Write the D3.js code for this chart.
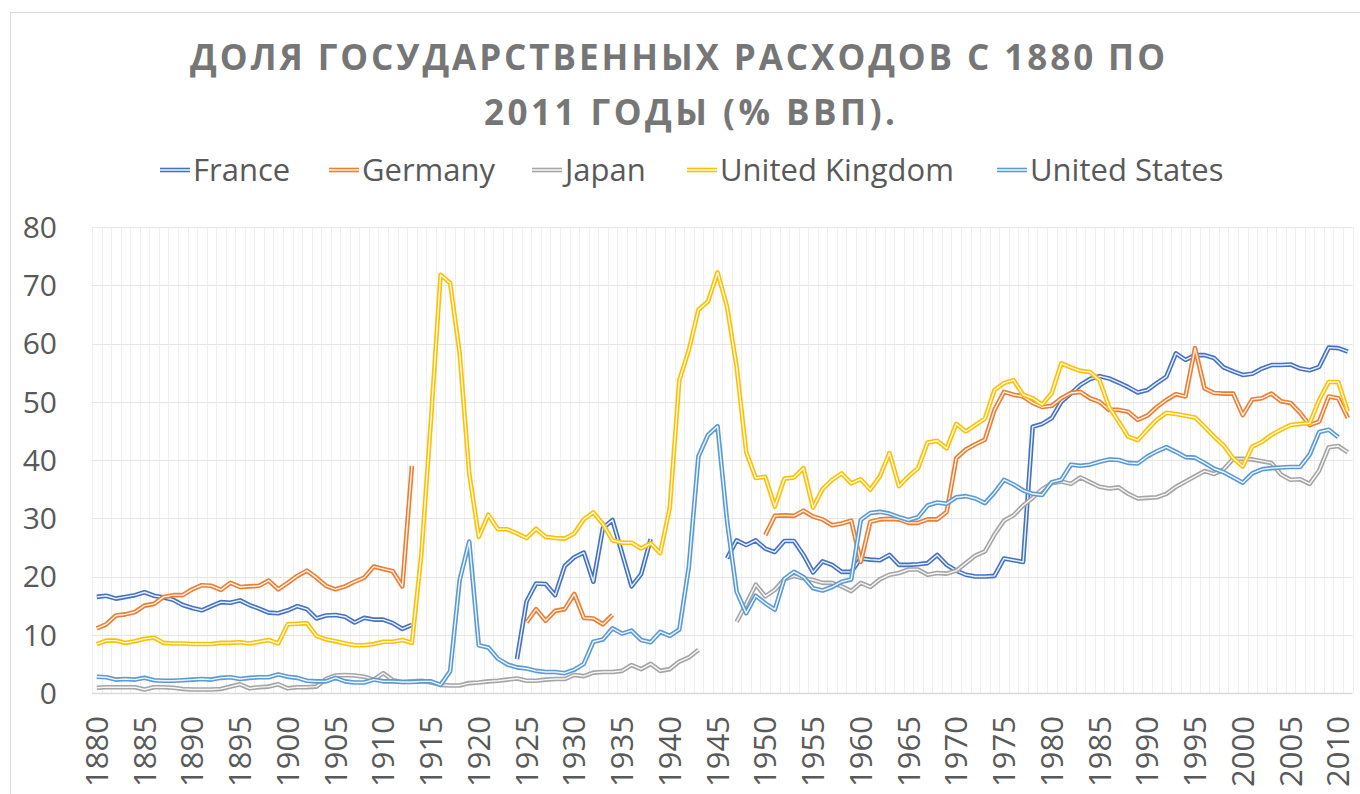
<!DOCTYPE html>
<html>
<head>
<meta charset="utf-8">
<script src="https://cdn.jsdelivr.net/npm/d3@7/dist/d3.min.js"></script>
<style>
body { margin: 0; background: #fff; }
text { font-family: "Open Sans", "DejaVu Sans", sans-serif; }
</style>
</head>
<body>
<div id="chart"></div>
<script>
// categories and labels
var years = d3.range(1880, 2012);
var yTicks = [0, 10, 20, 30, 40, 50, 60, 70, 80];
var xTickYears = years.filter(function(yr){ return yr % 5 == 0; });
var titleLines = ["ДОЛЯ ГОСУДАРСТВЕННЫХ РАСХОДОВ С 1880 ПО", "2011 ГОДЫ (% ВВП)."];
var countries = ["France", "Germany", "Japan", "United Kingdom", "United States"];
var colors = ["#4472C4", "#ED7D31", "#A5A5A5", "#FFC000", "#5B9BD5"];

// series, one value per year 1880..2011 (null = no data)
var france = [16.5, 16.7, 16.2, 16.5, 16.8, 17.3, 16.7, 16.4, 16.0, 15.1,
    14.6, 14.2, 14.9, 15.6, 15.5, 15.9, 15.1, 14.5, 13.8, 13.7,
    14.2, 14.9, 14.4, 12.8, 13.3, 13.4, 13.1, 12.1, 12.9, 12.6,
    12.6, 12.0, 11.0, 11.7,
    null, null, null, null, null, null, null, null, null, null,
    5.8, 15.7, 18.8, 18.7, 16.8, 21.8, 23.3, 24.1, 19.1, 28.3,
    29.7, 24.0, 18.3, 20.4, 26.4,
    null, null, null, null, null, null, null,
    23.1, 26.2, 25.4, 26.2, 24.8, 24.2, 26.1, 26.1, 23.7, 20.7,
    22.6, 22.0, 20.8, 20.8, 23.1, 22.9, 22.8, 23.7, 22.0, 22.0,
    22.1, 22.3, 23.7, 22.0, 21.0, 20.3, 20.0, 20.0, 20.1, 23.1,
    22.8, 22.5,
    45.7, 46.2, 47.2, 50.0, 51.4, 52.9, 53.9, 54.4, 54.0, 53.3,
    52.5, 51.6, 52.0, 53.2, 54.3, 58.3, 57.2, 58.0, 58.0, 57.5,
    55.9, 55.2, 54.6, 54.8, 55.7, 56.3, 56.3, 56.4, 55.7, 55.4,
    56.0, 59.3, 59.2, 58.6];

var germany = [11.1, 11.8, 13.3, 13.5, 13.9, 15.0, 15.3, 16.5, 16.8, 16.8,
    17.8, 18.5, 18.4, 17.7, 18.9, 18.2, 18.3, 18.4, 19.3, 17.8,
    18.9, 20.1, 21.0, 19.8, 18.4, 17.8, 18.3, 19.1, 19.8, 21.7,
    21.3, 20.9, 18.3, 39.0,
    null, null, null, null, null, null, null, null, null, null, null,
    12.1, 14.4, 12.4, 14.1, 14.4, 17.0, 12.9, 12.8, 11.8, 13.4,
    null, null, null, null, null, null, null, null, null, null,
    null, null, null, null, null,
    27.1, 30.4, 30.5, 30.4, 31.3, 30.3, 29.8, 28.8, 29.1, 29.6,
    22.5, 29.4, 29.8, 29.9, 29.8, 29.2, 29.2, 29.8, 29.8, 31.1,
    40.3, 41.8, 42.7, 43.5, 48.6, 51.7, 51.2, 50.9, 49.8, 49.1,
    49.3, 50.6, 51.5, 51.7, 50.6, 50.0, 48.6, 48.6, 48.3, 46.9,
    47.6, 49.1, 50.3, 51.3, 50.9, 59.2, 52.3, 51.5, 51.4, 51.4,
    47.7, 50.4, 50.6, 51.4, 50.1, 49.8, 48.1, 46.0, 46.6, 50.9,
    50.6, 47.2];

var japan = [0.9, 1.0, 1.0, 1.0, 1.0, 0.6, 1.0, 1.0, 0.9, 0.7,
    0.6, 0.6, 0.6, 0.7, 1.1, 1.5, 0.8, 1.0, 1.1, 1.5,
    0.8, 1.0, 1.0, 1.1, 2.4, 3.0, 3.1, 3.0, 2.8, 2.3,
    3.4, 2.2, 1.9, 2.0,
    2.1, 1.8, 1.4, 1.3, 1.3, 1.7, 1.8, 2.0, 2.1, 2.3,
    2.5, 2.1, 2.1, 2.3, 2.4, 2.4, 3.1, 2.9, 3.5, 3.6,
    3.6, 3.8, 4.8, 4.1, 5.0, 3.8, 4.1, 5.4, 6.1, 7.4,
    null, null, null,
    12.2, 15.3, 18.6, 16.6, 17.7, 19.5, 20.1, 19.7, 19.4, 18.9,
    18.9, 18.3, 17.5, 18.9, 18.2, 19.5, 20.3, 20.6, 21.2, 21.2,
    20.3, 20.6, 20.5, 21.0, 22.3, 23.6, 24.3, 27.2, 29.6, 30.5,
    32.2, 33.5, 35.0, 36.0, 36.3, 35.9, 37.0, 36.2, 35.4, 35.1,
    35.3, 34.2, 33.4, 33.5, 33.6, 34.2, 35.4, 36.3, 37.2, 38.1,
    37.6, 38.4, 40.2, 40.2, 40.1, 39.8, 39.5, 37.5, 36.6, 36.7,
    35.9, 38.2, 42.2, 42.4, 41.3];

var unitedKingdom = [8.4, 9.0, 9.0, 8.6, 8.9, 9.3, 9.5, 8.6, 8.5, 8.5,
    8.4, 8.4, 8.4, 8.6, 8.6, 8.7, 8.5, 8.8, 9.1, 8.5,
    11.8, 11.9, 12.0, 9.8, 9.2, 8.9, 8.5, 8.2, 8.2, 8.4,
    8.8, 8.8, 9.1, 8.6,
    24.0, 47.0, 71.8, 70.4, 58.3, 37.7, 26.8, 30.6, 28.1, 28.1,
    27.4, 26.6, 28.2, 26.8, 26.6, 26.5, 27.4, 29.8, 31.0, 29.0,
    26.2, 25.8, 25.8, 24.8, 25.7, 24.0, 31.8, 53.7, 58.9, 65.8,
    67.2, 72.2, 66.3, 56.0, 41.4, 36.9, 37.1, 32.0, 36.8, 37.0,
    38.6, 31.8, 35.0, 36.6, 37.7, 36.0, 36.7, 34.9, 37.2, 41.2,
    35.5, 37.2, 38.6, 43.0, 43.3, 42.0, 46.2, 44.9, 46.0, 47.1,
    52.0, 53.2, 53.7, 51.2, 50.6, 49.5, 51.5, 56.6, 55.9, 55.3,
    55.1, 53.7, 49.1, 46.6, 44.0, 43.4, 45.2, 46.9, 48.1, 47.9,
    47.6, 47.3, 45.7, 44.0, 42.5, 40.3, 38.9, 42.3, 43.1, 44.3,
    45.2, 46.0, 46.2, 46.3, 50.3, 53.4, 53.4, 48.3];

var unitedStates = [2.8, 2.7, 2.3, 2.4, 2.3, 2.6, 2.2, 2.1, 2.1, 2.2,
    2.3, 2.4, 2.3, 2.6, 2.7, 2.4, 2.6, 2.7, 2.7, 3.2,
    2.8, 2.6, 2.1, 2.0, 2.0, 2.6, 2.0, 1.8, 1.8, 2.3,
    2.0, 2.0, 1.9, 1.9,
    2.0, 2.0, 1.4, 3.7, 19.4, 26.0, 8.2, 7.8, 5.9, 4.9,
    4.4, 4.2, 3.8, 3.6, 3.6, 3.4, 4.0, 5.0, 8.8, 9.2,
    11.1, 10.2, 10.7, 9.1, 8.7, 10.5, 9.8, 10.9, 21.7, 40.6,
    44.3, 45.8, 29.5, 17.4, 13.7, 16.7, 15.4, 14.3, 19.6, 20.8,
    19.9, 18.0, 17.6, 18.2, 19.1, 19.5, 29.7, 30.9, 31.1, 30.8,
    30.2, 29.7, 30.2, 32.2, 32.7, 32.5, 33.6, 33.8, 33.4, 32.6,
    34.4, 36.6, 35.8, 34.8, 34.2, 34.0, 36.2, 36.6, 39.2, 39.0,
    39.2, 39.7, 40.1, 40.0, 39.5, 39.4, 40.6, 41.5, 42.2, 41.4,
    40.5, 40.4, 39.5, 38.5, 37.9, 37.0, 36.1, 37.7, 38.4, 38.6,
    38.7, 38.8, 38.8, 40.9, 44.8, 45.2, 43.9];

var seriesValues = [france, germany, japan, unitedKingdom, unitedStates];

window.onload = drawChart;

function drawChart(){
    var width = 1360,
        height = 794;

    var svg = d3.select("#chart")
        .append("svg")
        .attr("width", width)
        .attr("height", height);

    // chart area border (only top and left edges show)
    svg.append("rect")
        .attr("x", 10.5)
        .attr("y", 12.5)
        .attr("width", 1400)
        .attr("height", 900)
        .attr("fill", "#fff")
        .attr("stroke", "#d9d9d9");

    // plot area scales
    var x = d3.scaleBand()
        .domain(years)
        .range([92, 1352.6]);

    var y = d3.scaleLinear()
        .domain([0, 80])
        .range([693, 227]);

    setTitle(svg);
    setLegend(svg);
    setGrid(svg, x, y);
    setAxes(svg, x, y);
    setLines(svg, x, y);
};

function setTitle(svg){
    var spans = [975, 411];
    svg.selectAll(".title")
        .data(titleLines)
        .enter()
        .append("text")
        .attr("class", "title")
        .attr("x", function(d, i){ return i == 0 ? 677.5 : 689.5; })
        .attr("y", function(d, i){ return 70 + i * 55; })
        .attr("text-anchor", "middle")
        .attr("textLength", function(d, i){ return spans[i]; })
        .attr("lengthAdjust", "spacing")
        .style("font-size", "35px")
        .style("font-weight", "bold")
        .style("fill", "#767676")
        .text(function(d){ return d; });
};

function setLegend(svg){
    var legendX = [193, 362, 565, 720, 1030];

    var item = svg.selectAll(".legendItem")
        .data(countries)
        .enter()
        .append("g")
        .attr("class", "legendItem")
        .attr("transform", function(d, i){ return "translate(" + legendX[i] + ",170)"; });

    item.append("line")
        .attr("x1", -33)
        .attr("x2", -3)
        .attr("stroke", function(d, i){ return colors[i]; })
        .attr("stroke-width", 4.6);

    item.append("line")
        .attr("x1", -33)
        .attr("x2", -3)
        .attr("stroke", "#fff")
        .attr("stroke-width", 1.4);

    item.append("text")
        .attr("x", 0)
        .attr("y", 11)
        .style("font-size", "31px")
        .style("fill", "#595959")
        .text(function(d){ return d; });
};

function setGrid(svg, x, y){
    // vertical gridlines on every category boundary
    var bounds = years.map(function(yr){ return x(yr); }).concat([x.range()[1]]);
    svg.selectAll(".vgrid")
        .data(bounds)
        .enter()
        .append("line")
        .attr("class", "vgrid")
        .attr("x1", function(d){ return Math.round(d) + 0.5; })
        .attr("x2", function(d){ return Math.round(d) + 0.5; })
        .attr("y1", y(80))
        .attr("y2", y(0))
        .attr("stroke", "#efefef")
        .attr("stroke-width", 1);

    // horizontal gridlines
    svg.selectAll(".hgrid")
        .data(yTicks.slice(1))
        .enter()
        .append("line")
        .attr("class", "hgrid")
        .attr("x1", x.range()[0])
        .attr("x2", x.range()[1])
        .attr("y1", function(d){ return Math.round(y(d)) + 0.5; })
        .attr("y2", function(d){ return Math.round(y(d)) + 0.5; })
        .attr("stroke", "#e6e6e6")
        .attr("stroke-width", 1);
};

function setAxes(svg, x, y){
    // bottom axis line
    svg.append("line")
        .attr("x1", x.range()[0])
        .attr("x2", x.range()[1])
        .attr("y1", Math.round(y(0)) + 0.5)
        .attr("y2", Math.round(y(0)) + 0.5)
        .attr("stroke", "#d9d9d9")
        .attr("stroke-width", 1.5);

    svg.selectAll(".ylabel")
        .data(yTicks)
        .enter()
        .append("text")
        .attr("class", "ylabel")
        .attr("x", 57)
        .attr("y", function(d){ return y(d); })
        .attr("dy", "0.36em")
        .attr("text-anchor", "end")
        .style("font-size", "30px")
        .style("fill", "#595959")
        .text(function(d){ return d; });

    svg.selectAll(".xlabel")
        .data(xTickYears)
        .enter()
        .append("text")
        .attr("class", "xlabel")
        .attr("transform", function(d){
            return "translate(" + (x(d) + x.bandwidth() / 2) + ",716) rotate(-90)";
        })
        .attr("dy", "0.36em")
        .attr("text-anchor", "end")
        .style("font-size", "31px")
        .style("fill", "#595959")
        .text(function(d){ return d; });
};

function setLines(svg, x, y){
    var line = d3.line()
        .defined(function(d){ return d != null; })
        .x(function(d, i){ return x(years[i]) + x.bandwidth() / 2; })
        .y(function(d){ return y(d); });

    var series = svg.selectAll(".series")
        .data(seriesValues)
        .enter()
        .append("g")
        .attr("class", "series");

    // outer coloured stroke, then a thin white core => double line look
    series.append("path")
        .attr("d", line)
        .attr("fill", "none")
        .attr("stroke", function(d, i){ return colors[i]; })
        .attr("stroke-width", 4.6)
        .attr("stroke-linejoin", "round");

    series.append("path")
        .attr("d", line)
        .attr("fill", "none")
        .attr("stroke", "#fff")
        .attr("stroke-opacity", 0.9)
        .attr("stroke-width", 1.4)
        .attr("stroke-linejoin", "round");
};
</script>
</body>
</html>
